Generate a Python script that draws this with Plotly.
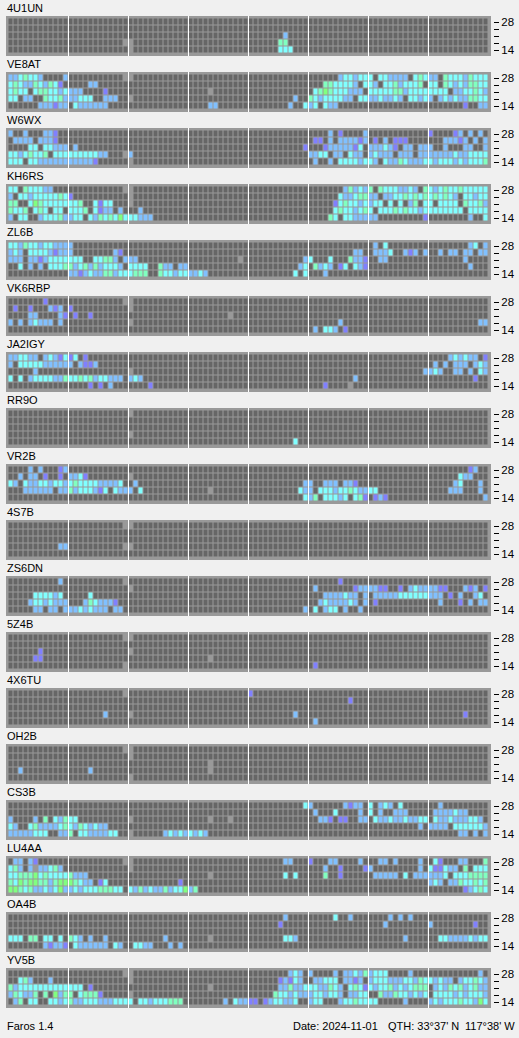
import plotly.graph_objects as go

# Rows run top to bottom (28 ... 14 MHz); each row has 8 groups of 12 quarter-hour cells.
# . no signal  _ no data  b/c/g/G/p signal levels. Short groups are padded with "."
STATIONS = ["4U1UN", "VE8AT", "W6WX", "KH6RS", "ZL6B", "VK6RBP", "JA2IGY", "RR9O", "VR2B",
            "4S7B", "ZS6DN", "5Z4B", "4X6TU", "OH2B", "CS3B", "LU4AA", "OA4B", "YV5B"]
TICK_LABELS = ["28", "", "", "", "14"]
LEVELS = "._bcgGp"
LEVEL_COLORS = ["#666666", "#999999", "#80C0FF", "#80FFFF", "#80FFC0", "#80FF80", "#8080FF"]
FOOTER = [("Faros 1.4", 6), ("Date: 2024-11-01", 292), ("QTH: 33°37' N", 387), ("117°38' W", 464)]

S_4U1UN = [
    ".",
    ".",
    ". . . . .......b",
    ". ..........._ _ . ......gg",
    ". . _ . ......ccc",
]
VE8AT = [
    "bbcgccb....b ..........._ _ . . ......bccbcc c.ccbbbb.cgc bb.gcccbgccc",
    "cgcbbgcbgcp. ....bb . . . ...ggccccb.c cb.ccgbcccg. cc.gcbcbggcc",
    "cgcc.cggccbc bbb....p . ...._ . .cgGgcccbbb. cccccggbcccc cccc.bbccgcb",
    "cc.bb..gccgb bbccc..bbb _ . .........b.. gcbccccbb.cc bbcbbcb.ccbc b.bcbcbbggcc",
    "......bbbpbb .cbbbbbb . ....bb ........b..c bc.cbb . .......p..bb",
]
W6WX = [
    "b..b...bbp . . . . ....b.p....b . p....pb.b.b.",
    ".bbbb.bbbp . . . . .pp.b.bbbbpb .p.b.ppp ...bbbpb.b.b",
    "....cc.ccbbb .b . . ...........p ...pbbbbbpc. bbbcbp.bb.bb b..b...bb..b",
    "ccbcgccg.ccc ccccccbb..._ b . . bbcc.bb.cbb. bcbbb.bbb.bb bbbbbcbbcccc",
    "ccc.ccbbbbbb bbbbbp _ . . .b..b.ccccbc cb.cbbgcbbbc cbcccbcbcccg",
]
KH6RS = [
    "cc.gcccbb ..........._ _ . . .......bgbcb g.gcccbbcb.g cbcgccgccccc",
    "b.ccbcccccgc p _ . . ......cbbcgg bb.bbccgcgcg cgcgcb.ccbcc",
    "gg..cGgccccc ccg..cpcc _ . . .....pcgccbc bcc.c.c.bg.c c.cccc.gccgb",
    "gccg.cgc.cc. cccg.cpbb.b. ..b . . .....cgccbcg c.cccgcgccbc ccccccc.cccc",
    "b.cc..bcccgb bcc.cbgcgcGc ccbbb . . ....gc.ccbbb bb.........p ........b..c",
]
ZL6B = [
    "ccbgccbccbbb b . . . . .b.c ........bc.b",
    "bcb.ccccbpbb b........bp . . . .........bb. .bbbc..bpb.b ..b.bb.bb.bb",
    "bbb.bbpbcccc ccc..ccggb.b bb .........._ ...........b c...c...gbbp ..bb .......b",
    "..c.b.b.cccg gbcgbgbcccb. cccc..gbb.bb . ..........bc .gbcb.pc.cbp . ........b",
    ". bbpbcbbggbcc cggg..gccbcc bbcb .........c.c ...b",
]
VK6RBP = [
    ".......p ..........._ _",
    ".p..p...bpb. p _",
    "....bb....bp .p..p . ........_",
    "b.b.bcbbb.b. . _ . . ......b . ..........bb",
    ". . . . . .b.ccb.p",
]
JA2IGY = [
    "bbccbb.bcbpc pc.p . . . . . ....bcbcbb.p",
    "b.cccccbbbbb b.bppb . . . . . .b.b.bbb.bcb",
    ".....b . _ . . . ...........b bcb..bb.b.cb",
    "c.c.bccccbbg ccgcgbccbbb. bcb . . .........b . .........p",
    ". ....p.p.b ....p . . ...p...._",
]
RR9O = [
    ". . _",
    ".",
    ".",
    ". . _",
    ". . . . .........c",
]
VR2B = [
    "....b.b...pb . . . . . . ........pb",
    "..b.bb.p..p. bbcp _ . . . . ......cbb",
    "cb.cbbccbccb cgccccbbbbc. .b . ...........b b..bbb.bbp . .....bc...b",
    "...bbbbbb.bb gbcccbpc.cbb b.c ...._ ..........cb b.cccbccgcbb cc ....bbb...b",
    ". . . . ...........c bg.cccbc.cgp .pbp ...........b",
]
S_4S7B = [
    ". ..........._ _",
    ".",
    ".",
    "..........bb ..........._ _",
    ".",
]
ZS6DN = [
    "..........b ..........._ . . . ......p",
    ". . _ . . .b.......pbb bbpp..p.bcbb bbpp...bpb.p",
    ".....ccccbc ....c . . . ...bbbbcbb.b .bbbbbcccccc bbb.p.b..bc.",
    "....bccbcbbb ...bgcbbbp . . . ..bcbbbbcb.b .p ..b...p.b.bb",
    ".....bb.bb.b bbcbcbbb.bb . . ...........b .c.bcc.b..b",
]
S_5Z4B = [
    ". ..........._ _",
    ".",
    "......p . _",
    ".....pp . . ...._",
    ". ..........._ . . . .p",
]
S_4X6TU = [
    ". ..........._ . . p",
    ". . . . . ........p",
    ".",
    ". .......b _ . .........b . . .......p",
    ". . . . . .b",
]
OH2B = [
    ". ..........._ _",
    ". . _",
    ". . . ...._",
    "..b ....b . ...._",
    ". . _",
]
CS3B = [
    ". . . . ...........c b......bpbb. c.bcb.c ..b",
    ". . . . . .b...c....b. c.b..bbb .bbbbcbb",
    "b....b.g.cbg cc _ ...._..._ . ..bbp.pp..bb .cbbcbbcbbcc .cbbcbbbccb",
    "cb..cgbbbbcg cbgcbcbb . . . . ..........b bbbb.ccccccb",
    "bbbbbccc..bb g.ccbbbbcc _......bcbcb cbcb . . . ......bb.b.b",
]
LU4AA = [
    ".bb.bp ..........._ _ . .......bb p...bb....b ..bb.b....b .cp...bb...g",
    "cgb.b_bbcgb. . _ . . ...b..p....p b.........b cppcbb.g.ccc",
    "ccgggGcgcccc gbbb . ...._ .......c.c ...g..p .bbbbb.c.bbb bbbc.cccgggg",
    "gcGgGGggbgGG Ggcbb.pc ..........p . . . . bcb.bbgccgcg",
    "GGgcgbbcbcGb bcbcccgggcc. cbgbcbbgbccG bg . . . .......pbcgc",
]
OA4B = [
    ". . . . .......b .....c..b ....b.b.b",
    ". . . . ......p . ...b b........p",
    ".",
    "ccc.gg.cc.c. gcb.b..b .......b ...._ .......ccb . .......b ..ccbbbbcbcc",
    ".......bpbbp .cbbbbbb.cb .ccbb...b.b",
]
YV5B = [
    ". ..........._ _ . ........bcb. b....b.bbcbg bccc....b ..........b",
    "..cgb...b . _ . ......pbpcb. .bbccc.bbpb. bcccbbbccbgc cbcbb.bccgcb",
    "gbcccccccccc ccc.p . ...._ ......bbgbbc ccbbgcb.cgcp cbccgbcbcggg .bcbgcgbcgbb",
    "bgcbbg.g.Gbg g.cgggp _ . .....gccbcbb bccbccb.bbcc ..gbbgccbcbc .ccccbcbcccb",
    ".bg.cc..ccbc gbbcccbbbccc c.ccbcccggg. .......b.cbb pp.pbccbbc.. bcc...bccgcc cc.....b bcbcccgccbGc",
]
ALL_ROWS = [S_4U1UN, VE8AT, W6WX, KH6RS, ZL6B, VK6RBP, JA2IGY, RR9O, VR2B,
            S_4S7B, ZS6DN, S_5Z4B, S_4X6TU, OH2B, CS3B, LU4AA, OA4B, YV5B]
HOUR_BOUNDARIES = [11.5, 23.5, 35.5, 47.5, 59.5, 71.5, 83.5]


def parse(row):
    groups = row.split()
    groups += ["."] * (8 - len(groups))
    text = "".join(g.ljust(12, ".")[:12] for g in groups[:8])
    return [LEVELS.index(ch) for ch in text]


W, H = 519, 1038
FONT = "Liberation Sans"
TEXT_SIZE = 11
n = len(LEVEL_COLORS)
scale = []
for i, col in enumerate(LEVEL_COLORS):
    scale += [[i / n, col], [(i + 1) / n, col]]

fig = go.Figure()
layout = dict(
    width=W, height=H, margin=dict(l=0, r=0, t=0, b=0), autosize=False,
    paper_bgcolor="#F0F0F0", plot_bgcolor="#999999", showlegend=False,
    font=dict(family=FONT, size=TEXT_SIZE, color="black"),
)
shapes, annotations = [], []
for k, (name, rows) in enumerate(zip(STATIONS, ALL_ROWS)):
    s = "" if k == 0 else str(k + 1)
    top = 16 + 56 * k
    fig.add_trace(go.Heatmap(
        z=[parse(r) for r in rows], x=list(range(96)), y=list(range(5)),
        colorscale=scale, zmin=0, zmax=n, showscale=False, xgap=1, ygap=1,
        hoverinfo="skip", xaxis="x" + s, yaxis="y" + s,
    ))
    layout["xaxis" + s] = dict(domain=[6 / W, 491 / W], range=[-1, 96], visible=False,
                               anchor="y" + s, fixedrange=True)
    layout["yaxis" + s] = dict(
        domain=[1 - (top + 40) / H, 1 - top / H], range=[34 / 7, -6 / 7], anchor="free",
        position=493 / W, side="right", showgrid=False, zeroline=False, showline=False,
        tickmode="array", tickvals=list(range(5)), ticktext=TICK_LABELS,
        ticks="outside", ticklen=5, tickwidth=1, tickcolor="black",
        tickfont=dict(family=FONT, size=11.5, color="black"), fixedrange=True,
    )
    for b in HOUR_BOUNDARIES:
        shapes.append(dict(type="line", xref="x" + s, yref="y%s domain" % s, x0=b, x1=b, y0=0, y1=1,
                           line=dict(color="white", width=1), layer="above"))
    annotations.append(dict(text=name, x=6 / W, y=1 - (top - 8) / H, xref="paper", yref="paper",
                            xanchor="left", yanchor="middle", showarrow=False,
                            xshift=-1, font=dict(family=FONT, size=TEXT_SIZE, color="black")))

for text, px in FOOTER:
    annotations.append(dict(text=text, x=px / W, y=1 - 1026 / H, xref="paper", yref="paper",
                            xanchor="left", yanchor="middle", showarrow=False, xshift=-1,
                            font=dict(family=FONT, size=TEXT_SIZE, color="black")))
layout["shapes"] = shapes
layout["annotations"] = annotations
fig.update_layout(**layout)
fig.write_html("out.html", config=dict(displayModeBar=False),
               post_script="document.body.style.margin='0';document.body.style.background='#F0F0F0';")
